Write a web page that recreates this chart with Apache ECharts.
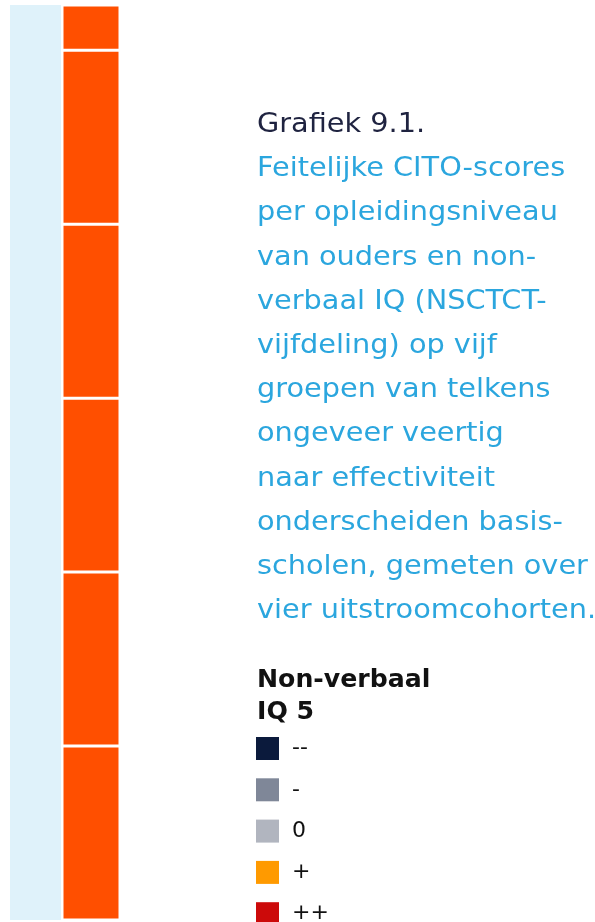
<!DOCTYPE html>
<html><head><meta charset="utf-8">
<script src="https://cdn.jsdelivr.net/npm/echarts@6/dist/echarts.min.js"></script>
<style>html,body{margin:0;padding:0;background:#fff}#c{width:595px;height:922px}</style>
</head><body><div id="c"></div>
<script>
// Data
const backgroundValue = [105.2];
const orangeSegments = [20, 20, 20, 20, 20, 5.2];
const legendNames = ['--', '-', '0', '+', '++'];
const legendColors = ['#0b1a3c', '#7f8798', '#b1b5bf', '#ff9a00', '#cc0a0a'];
const captionTitle = 'Grafiek 9.1.';
const captionLines = ['Feitelijke CITO-scores', 'per opleidingsniveau', 'van ouders en non-', 'verbaal IQ (NSCTCT-', 'vijfdeling) op vijf', 'groepen van telkens', 'ongeveer veertig', 'naar effectiviteit', 'onderscheiden basis-', 'scholen, gemeten over', 'vier uitstroomcohorten.'];
const legendTitle = ['Non-verbaal', 'IQ 5'];

const FONT = 'DejaVu Sans';
const chart = echarts.init(document.getElementById('c'));
const series = [{
  type: 'bar', xAxisIndex: 0, yAxisIndex: 0, data: backgroundValue, barWidth: '100%',
  itemStyle: { color: '#dff2fa' }, silent: true
}];
orangeSegments.forEach((v, i) => series.push({
  type: 'bar', name: 'seg' + i, stack: 'o', xAxisIndex: 1, yAxisIndex: 1, data: [v], barWidth: '100%',
  itemStyle: { color: '#ff4f00', borderColor: '#ffffff', borderWidth: 1.5 }, silent: true
}));
legendNames.forEach((n, i) => series.push({
  type: 'scatter', name: n, xAxisIndex: 1, yAxisIndex: 1, data: [], itemStyle: { color: legendColors[i], opacity: 1 }
}));
chart.setOption({
  animation: false,
  grid: [
    { left: 10, top: 5, width: 51, height: 915 },
    { left: 62, top: 5, width: 58, height: 915 }
  ],
  xAxis: [
    { gridIndex: 0, type: 'category', data: ['a'], show: false },
    { gridIndex: 1, type: 'category', data: ['b'], show: false }
  ],
  yAxis: [
    { gridIndex: 0, type: 'value', min: 0, max: 105.2, show: false },
    { gridIndex: 1, type: 'value', min: 0, max: 105.2, show: false }
  ],
  legend: {
    data: legendNames.map((n, i) => ({ name: n, itemStyle: { color: legendColors[i], opacity: 1 } })),
    orient: 'vertical', left: 256, top: 737, padding: 0, height: 260,
    itemWidth: 23, itemHeight: 23, itemGap: 18.3, selectedMode: false,
    icon: 'rect',
    textStyle: { fontFamily: FONT, fontSize: 22, color: '#111', padding: [0, 0, 0, 8] }
  },
  graphic: [
    { type: 'text', x: 257, y: 103, scaleX: 1.065, style: { text: captionTitle, font: '27px "DejaVu Sans"', fill: '#1f2340', lineHeight: 44 } },
    { type: 'text', x: 257, y: 147, scaleX: 1.065, style: { text: captionLines.join('\n'), font: '27px "DejaVu Sans"', fill: '#2ba6de', lineHeight: 44.2 } },
    { type: 'text', x: 257, y: 665, scaleX: 1.05, style: { text: legendTitle.join('\n'), font: 'bold 24px "DejaVu Sans"', fill: '#111', lineHeight: 32 } }
  ],
  series: series
});
</script></body></html>
